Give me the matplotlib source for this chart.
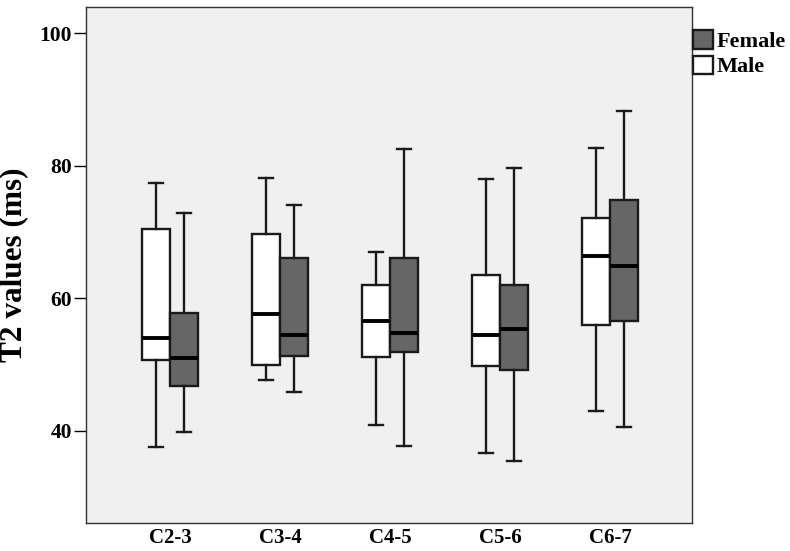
import numpy as np
import matplotlib.pyplot as plt
from matplotlib.patches import Patch

plt.rcParams['font.family'] = ['Liberation Serif', 'DejaVu Serif']
plt.rcParams['font.weight'] = 'bold'

levels = ["C2-3", "C3-4", "C4-5", "C5-6", "C6-7"]

# five-number summaries: low whisker, Q1, median, Q3, high whisker
male_low = [37.5, 47.6, 40.8, 36.7, 43.0]
male_q1 = [50.7, 49.9, 51.1, 49.7, 55.9]
male_med = [54.0, 57.6, 56.6, 54.4, 66.3]
male_q3 = [70.4, 69.7, 62.0, 63.5, 72.1]
male_high = [77.3, 78.1, 66.9, 78.0, 82.6]

female_low = [39.8, 45.8, 37.7, 35.4, 40.5]
female_q1 = [46.8, 51.3, 51.9, 49.2, 56.5]
female_med = [51.0, 54.5, 54.7, 55.3, 64.8]
female_q3 = [57.7, 66.0, 66.1, 62.0, 74.8]
female_high = [72.9, 74.1, 82.5, 79.7, 88.2]


def stats(low, q1, med, q3, high):
    out = []
    for i in range(len(low)):
        out.append({"whislo": low[i], "q1": q1[i], "med": med[i], "q3": q3[i],
                    "whishi": high[i], "fliers": []})
    return out


fig = plt.figure(figsize=(7.9, 5.51), dpi=100)
ax = fig.add_axes([0.109, 0.051, 0.767, 0.936])
ax.set_facecolor("#f0f0f0")

x = np.arange(1, len(levels) + 1)
w = 0.255

edge = "#1a1a1a"
for st, pos, fc in [(stats(male_low, male_q1, male_med, male_q3, male_high), x - w / 2, "white"),
                    (stats(female_low, female_q1, female_med, female_q3, female_high), x + w / 2, "#666666")]:
    ax.bxp(st, positions=pos, widths=w, capwidths=w / 2, patch_artist=True,
           showfliers=False, manage_ticks=False,
           boxprops=dict(facecolor=fc, edgecolor=edge, linewidth=1.7),
           medianprops=dict(color="black", linewidth=2.8),
           whiskerprops=dict(color=edge, linewidth=1.7),
           capprops=dict(color=edge, linewidth=1.7))

ax.set_xlim(0.236, 5.745)
ax.set_ylim(26.1, 103.9)
ax.set_xticks(x)
ax.set_xticklabels(levels, fontsize=15, fontweight="bold")
ax.tick_params(axis="x", length=0, pad=4)
ax.set_yticks([40, 60, 80, 100])
ax.tick_params(axis="y", length=9, width=1, labelsize=15.5, pad=1)
for lab in ax.get_yticklabels():
    lab.set_fontweight("bold")
ax.set_ylabel("T2 values (ms)", fontsize=22.5, fontweight="bold")
ax.yaxis.set_label_coords(-0.095, 0.5)
for s in ax.spines.values():
    s.set_linewidth(1)
    s.set_color("#333333")

handles = [Patch(facecolor="#666666", edgecolor=edge, linewidth=1.7, label="Female"),
           Patch(facecolor="white", edgecolor=edge, linewidth=1.7, label="Male")]
ax.legend(handles=handles, loc="upper left", bbox_to_anchor=(1.002, 0.955), frameon=False,
          handlelength=0.9, handleheight=0.9, handletextpad=0.15, labelspacing=0.15,
          borderaxespad=0, borderpad=0, prop={"size": 16, "weight": "bold"})

fig.savefig("out.png", dpi=100)
